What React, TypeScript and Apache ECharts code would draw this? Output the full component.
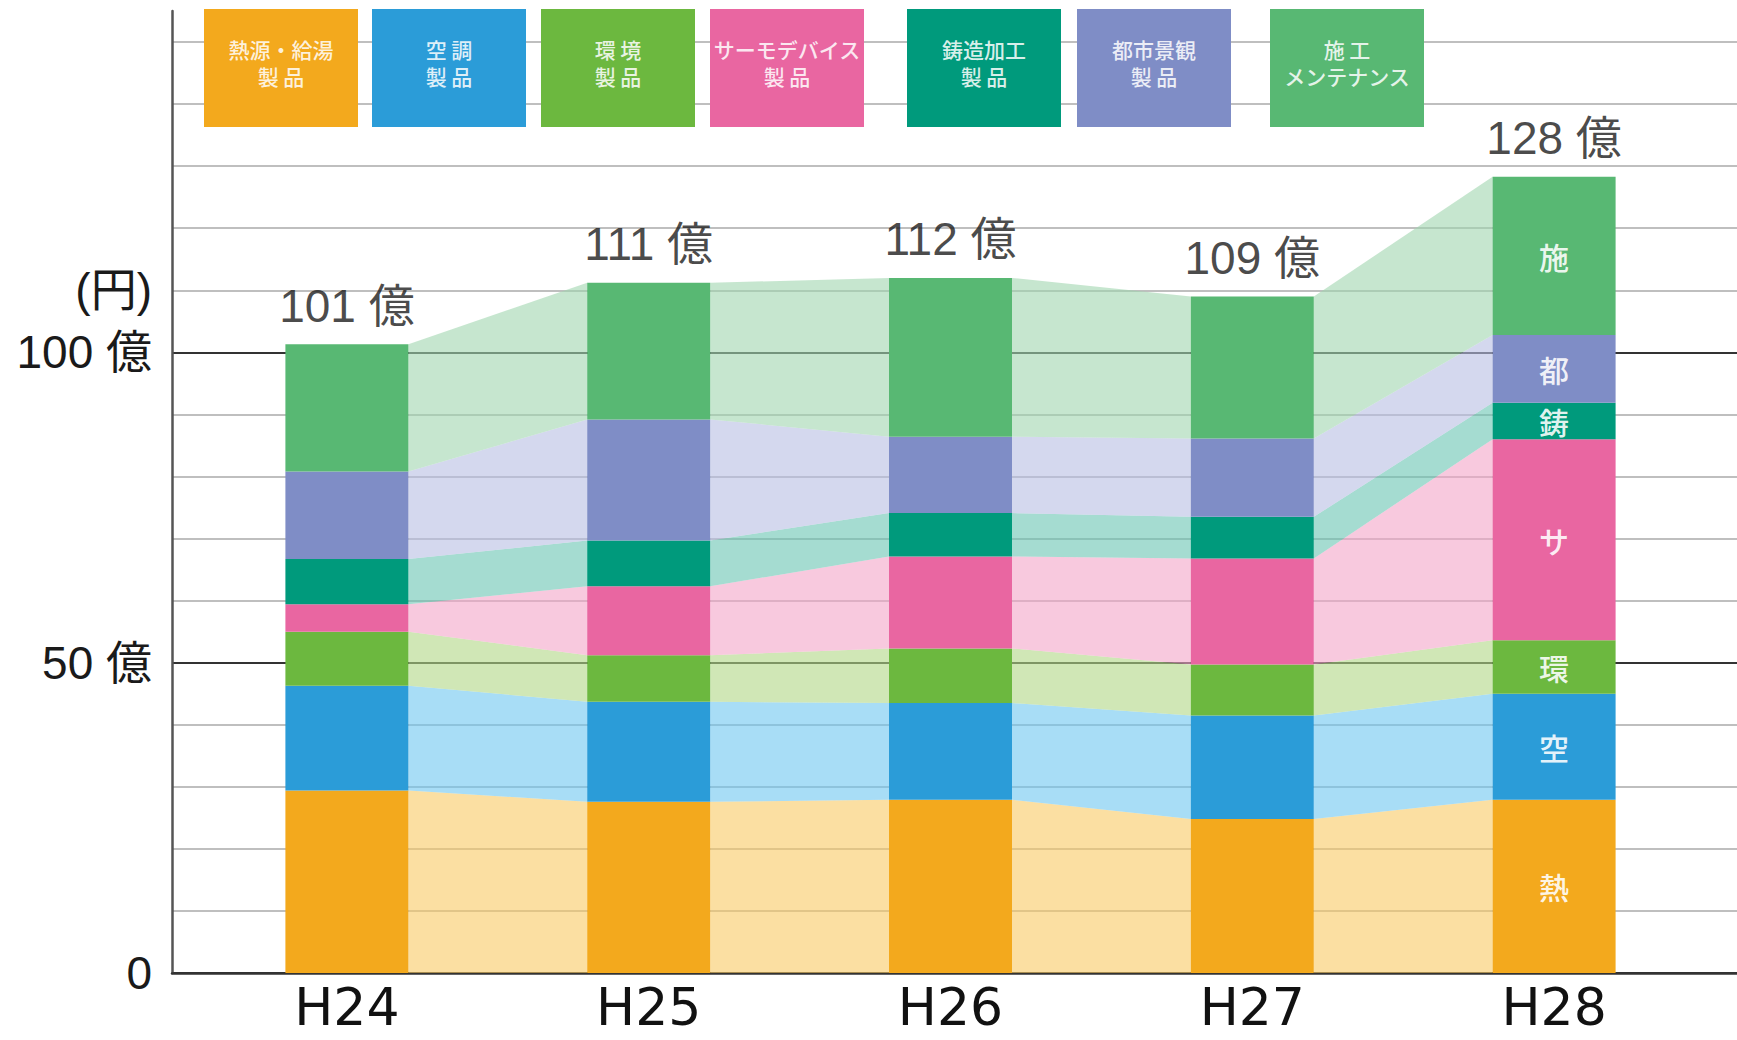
import React, { useEffect, useRef } from "react";
import * as echarts from "echarts";

// ---- data ----
const years = ["H24", "H25", "H26", "H27", "H28"];
const seriesNames = [
  "熱源・給湯製品",
  "空調製品",
  "環境製品",
  "サーモデバイス製品",
  "鋳造加工製品",
  "都市景観製品",
  "施工メンテナンス",
];
const shortNames = ["熱", "空", "環", "サ", "鋳", "都", "施"];
const legendTexts = [
  "熱源・給湯\n製 品",
  "空 調\n製 品",
  "環 境\n製 品",
  "サーモデバイス\n製 品",
  "鋳造加工\n製 品",
  "都市景観\n製 品",
  "施 工\nメンテナンス",
];
const heat = [29.4, 27.6, 27.9, 24.8, 27.9];
const aircon = [16.9, 16.1, 15.6, 16.7, 17.1];
const environment = [8.7, 7.5, 8.8, 8.2, 8.6];
const thermo = [4.4, 11.1, 14.8, 17.1, 32.4];
const casting = [7.3, 7.4, 7.0, 6.7, 5.9];
const urban = [14.1, 19.5, 12.3, 12.6, 10.9];
const maintenance = [20.5, 22.0, 25.6, 22.9, 25.5];
const totals = [101, 111, 112, 109, 128];
const yTickLabels: Record<number, string> = { 0: "0", 50: "50 億", 100: "100 億", 110: "(円)" };

// ---- styles ----
const barColors = ["#f3a91d", "#2b9cd8", "#6cb83f", "#e966a1", "#009a7c", "#7f8dc6", "#58b873"];
const flowTargets = ["#fbdfa2", "#a8ddf6", "#d0e7b6", "#f8c9de", "#a5dcd1", "#d4d8ee", "#c6e6cf"];
const legendX = [204, 372, 541, 710, 907, 1077, 1270];
const BAR_W = 123;
const FLOW_ALPHA = 0.6;
const FONT = '"Liberation Sans", "Noto Sans CJK JP", sans-serif';
const XFONT = '"DejaVu Sans", "Liberation Sans", sans-serif';
const CJK = '"Noto Sans CJK JP", sans-serif';

function overWhite(hex: string, a: number) {
  const n = parseInt(hex.slice(1), 16);
  const rgb = [(n >> 16) & 255, (n >> 8) & 255, n & 255].map((t) =>
    Math.max(0, Math.round(255 - (255 - t) / a))
  );
  return `rgba(${rgb[0]},${rgb[1]},${rgb[2]},${a})`;
}

export default function App() {
  const ref = useRef<HTMLDivElement>(null);

  useEffect(() => {
    if (!ref.current) return;
    const chart = echarts.init(ref.current, undefined, { renderer: "svg" });
    const segs = [heat, aircon, environment, thermo, casting, urban, maintenance];
    const cum: number[][] = [years.map(() => 0)];
    segs.forEach((s, k) => cum.push(s.map((v, i) => cum[k][i] + v)));
    const flowData: number[][] = [];
    for (let k = 0; k < segs.length; k++) {
      for (let i = 0; i < years.length - 1; i++) {
        flowData.push([i, k, cum[k][i], cum[k + 1][i], cum[k][i + 1], cum[k + 1][i + 1]]);
      }
    }
    const flowFills = flowTargets.map((c) => overWhite(c, FLOW_ALPHA));
    const stackTops = cum[segs.length];

    const graphics: any[] = [];
    legendX.forEach((x, k) => {
      graphics.push({
        type: "rect",
        shape: { x, y: 9, width: 154, height: 118 },
        style: { fill: barColors[k] },
        z: 100,
      });
      graphics.push({
        type: "text",
        x: x + 77,
        y: 62,
        style: {
          text: legendTexts[k],
          fill: "rgba(255,255,255,0.85)",
          fontSize: 21,
          fontWeight: 500,
          fontFamily: CJK,
          align: "center",
          verticalAlign: "middle",
          lineHeight: 27,
        },
        z: 101,
      });
    });

    const option: any = {
      animation: false,
      backgroundColor: "#ffffff",
      grid: [
        { left: 172, right: 0, top: 11, bottom: 67 },
        { left: 196, right: 32, top: 11, bottom: 67 },
      ],
      xAxis: [
        {
          gridIndex: 0,
          type: "value",
          min: 0,
          max: 1,
          axisLine: { show: true, lineStyle: { color: "#333", width: 2.5 } },
          axisTick: { show: false },
          axisLabel: { show: false },
          splitLine: { show: false },
        },
        {
          gridIndex: 1,
          type: "category",
          data: years,
          axisLine: { show: false },
          axisTick: { show: false },
          axisLabel: {
            fontSize: 52,
            lineHeight: 52,
            color: "#111",
            margin: 8,
            fontFamily: XFONT,
          },
        },
      ],
      yAxis: [
        {
          gridIndex: 0,
          type: "value",
          min: 0,
          max: 155,
          interval: 10,
          axisLine: { show: true, lineStyle: { color: "#555", width: 2.5 } },
          axisTick: { show: false },
          axisLabel: {
            formatter: (v: number) => yTickLabels[v] ?? "",
            fontSize: 46,
            color: "#1a1a1a",
            margin: 20,
            fontFamily: FONT,
          },
          splitLine: { show: true, showMaxLine: false, lineStyle: { color: "#aaaaaa", width: 1.5 } },
        },
        {
          gridIndex: 0,
          type: "value",
          min: 0,
          max: 155,
          interval: 50,
          axisLine: { show: false },
          axisTick: { show: false },
          axisLabel: { show: false },
          splitLine: {
            show: true,
            showMaxLine: false,
            lineStyle: { color: ["#333", "#333", "#333", "rgba(0,0,0,0)"], width: 2 },
          },
        },
        { gridIndex: 1, type: "value", min: 0, max: 155, show: false },
      ],
      series: [
        {
          type: "custom",
          name: "flow",
          xAxisIndex: 1,
          yAxisIndex: 2,
          z: 1,
          silent: true,
          clip: false,
          dimensions: ["x", "k", "b0", "t0", "b1", "t1"],
          encode: { x: 0, y: [2, 3, 4, 5] },
          data: flowData,
          renderItem: (params: any, api: any) => {
            const i = api.value(0);
            const k = api.value(1);
            const pb0 = api.coord([i, api.value(2)]);
            const pt0 = api.coord([i, api.value(3)]);
            const pb1 = api.coord([i + 1, api.value(4)]);
            const pt1 = api.coord([i + 1, api.value(5)]);
            const h = BAR_W / 2;
            return {
              type: "polygon",
              shape: {
                points: [
                  [pb0[0] + h, pb0[1]],
                  [pt0[0] + h, pt0[1]],
                  [pt1[0] - h, pt1[1]],
                  [pb1[0] - h, pb1[1]],
                ],
              },
              style: { fill: flowFills[k] },
            };
          },
        },
        ...segs.map((s, k) => ({
          type: "bar",
          name: seriesNames[k],
          xAxisIndex: 1,
          yAxisIndex: 2,
          stack: "total",
          barWidth: BAR_W,
          z: 3,
          data: s,
          itemStyle: { color: barColors[k] },
          label: {
            show: true,
            position: "inside",
            formatter: (p: any) => (p.dataIndex === years.length - 1 ? shortNames[k] : ""),
            fontSize: 30,
            fontFamily: CJK,
            fontWeight: 500,
            color: "rgba(255,255,255,0.9)",
          },
        })),
        {
          type: "scatter",
          name: "合計",
          xAxisIndex: 1,
          yAxisIndex: 2,
          z: 4,
          symbol: "circle",
          symbolSize: 1,
          itemStyle: { color: "rgba(0,0,0,0)" },
          data: stackTops,
          label: {
            show: true,
            position: "top",
            distance: 15,
            formatter: (p: any) => `${totals[p.dataIndex]} 億`,
            fontSize: 46,
            color: "#1a1a1a",
            fontFamily: FONT,
          },
        },
      ],
      graphic: graphics,
    };
    chart.setOption(option);
    return () => chart.dispose();
  }, []);

  return (
    <div
      ref={ref}
      style={{ position: "fixed", left: 0, top: 0, width: 1737, height: 1040, background: "#fff" }}
    />
  );
}
